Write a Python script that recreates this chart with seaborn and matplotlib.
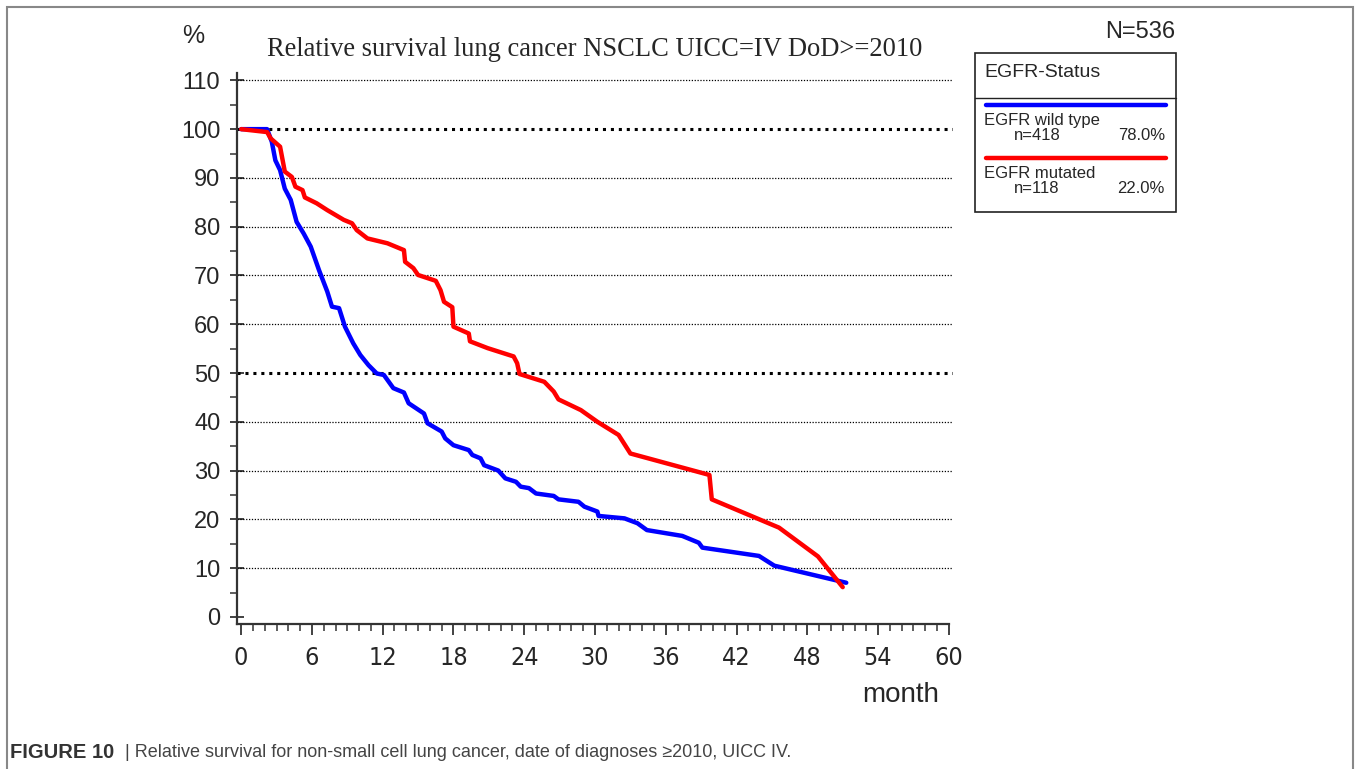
import pandas as pd
import matplotlib
matplotlib.use('Agg')
import matplotlib.pyplot as plt
import seaborn as sns
from matplotlib.lines import Line2D
from matplotlib.patches import Rectangle
from matplotlib.ticker import MultipleLocator

# Kurvenwerte (Monate, relative Überlebensrate in %)
wild_months = [0, 2.2, 2.6, 2.9, 3.3, 3.7, 4.2, 4.7, 5.3, 5.9, 6.6, 7.3, 7.7, 8.3, 8.8,
               9.5, 10.1, 10.8, 11.5, 12.1, 12.9, 13.8, 14.2, 15.5, 15.8, 17.0, 17.3,
               18.0, 19.3, 19.6, 20.3, 20.6, 21.8, 22.4, 23.3, 23.7, 24.4, 25.0, 26.5,
               26.9, 28.6, 29.1, 30.2, 30.3, 32.5, 33.6, 34.4, 37.4, 38.8, 39.1, 43.9,
               45.2, 51.3]
wild_surv = [100, 100, 97.4, 93.6, 91.6, 87.8, 85.5, 81.0, 78.6, 75.9, 71.1, 66.7, 63.6,
             63.3, 59.5, 56.1, 53.7, 51.6, 49.9, 49.6, 46.9, 46.0, 43.8, 41.7, 39.7, 38.0,
             36.6, 35.2, 34.2, 33.2, 32.5, 31.1, 30.0, 28.4, 27.7, 26.7, 26.4, 25.3, 24.8,
             24.1, 23.6, 22.6, 21.6, 20.7, 20.2, 19.2, 17.8, 16.6, 15.2, 14.2, 12.5, 10.5,
             7.0]
mut_months = [0, 2.2, 2.5, 3.3, 3.7, 4.3, 4.6, 5.2, 5.4, 6.4, 7.3, 8.7, 9.4, 9.8, 10.7,
              12.4, 13.8, 13.9, 14.6, 15.0, 16.5, 16.9, 17.2, 17.9, 18.0, 19.3, 19.4,
              20.9, 23.1, 23.4, 23.6, 25.7, 26.5, 26.9, 28.8, 30.2, 32.0, 33.0, 39.7,
              39.9, 45.6, 48.9, 51.0]
mut_surv = [100, 99.4, 98.1, 96.4, 91.3, 90.2, 88.2, 87.5, 86.0, 84.8, 83.4, 81.4, 80.7,
            79.3, 77.6, 76.6, 75.2, 72.8, 71.5, 70.1, 68.9, 67.0, 64.6, 63.5, 59.5, 58.1,
            56.5, 55.1, 53.4, 52.0, 49.8, 48.2, 46.2, 44.6, 42.4, 40.0, 37.3, 33.5, 29.1,
            24.1, 18.3, 12.4, 6.1]

groups = ['EGFR wild type', 'EGFR mutated']
group_n = [418, 118]
group_pct = ['78.0%', '22.0%']
total_n = 536
colors = ['#0000ff', '#ff0000']

df = pd.concat([
    pd.DataFrame({'month': wild_months, 'surv': wild_surv, 'group': groups[0]}),
    pd.DataFrame({'month': mut_months, 'surv': mut_surv, 'group': groups[1]}),
])

sns.set_style('white')
plt.rcParams['font.family'] = ['Liberation Sans', 'DejaVu Sans']

fig = plt.figure(figsize=(13.56, 7.69), dpi=100)
ax = fig.add_axes([0.1748, 0.1886, 0.7028 - 0.1748, 0.905 - 0.1886])

# Gitterlinien
for yv in range(10, 111, 10):
    if yv in (50, 100):
        ax.axhline(yv, color='black', lw=2.2, ls=(0, (1, 1.6)), zorder=1)
    else:
        ax.axhline(yv, color='black', lw=0.9, ls=(0, (1, 1.3)), zorder=1)

sns.lineplot(data=df, x='month', y='surv', hue='group', palette=colors,
             sort=False, estimator=None, lw=3.2, legend=False, ax=ax, zorder=3)

ax.set_xlim(-0.35, 60.35)
ax.set_ylim(-1.45, 111.5)
ax.set_xlabel('')
ax.set_ylabel('')

for s in ['top', 'right']:
    ax.spines[s].set_visible(False)
for s in ['left', 'bottom']:
    ax.spines[s].set_color('#333333')
    ax.spines[s].set_linewidth(1.6)
ax.spines['bottom'].set_bounds(-0.35, 60.0)

ax.xaxis.set_major_locator(MultipleLocator(6))
ax.xaxis.set_minor_locator(MultipleLocator(1))
ax.yaxis.set_major_locator(MultipleLocator(10))
ax.yaxis.set_minor_locator(MultipleLocator(5))
ax.tick_params(axis='x', which='major', direction='out', length=8, width=1.3,
               color='#333333', labelsize=18, pad=8)
ax.tick_params(axis='x', which='minor', direction='out', length=5, width=1.1,
               color='#333333')
ax.tick_params(axis='y', which='major', direction='inout', length=10, width=1.3,
               color='#333333', labelsize=17, pad=7)
ax.tick_params(axis='y', which='minor', direction='out', length=5, width=1.1,
               color='#333333')
ax.tick_params(bottom=True, left=True, which='both')
for lab in ax.get_xticklabels():
    lab.set_family(['DejaVu Sans'])
    lab.set_fontstretch('condensed')
    lab.set_fontsize(18)

ax.set_title('Relative survival lung cancer NSCLC UICC=IV DoD>=2010',
             family=['Liberation Serif', 'DejaVu Serif'], fontsize=19.1,
             pad=12, x=0.5)

fig.text(0.1425, 0.953, '%', fontsize=18, ha='center', va='center')
fig.text(0.664, 0.096, 'month', fontsize=20, ha='center', va='center')
fig.text(0.867, 0.958, f'N={total_n}', fontsize=17, ha='right', va='center')

# Legendenkasten
fig.add_artist(Rectangle((0.719, 0.724), 0.148, 0.207, transform=fig.transFigure,
                         fill=False, ec='#222222', lw=1.2))
fig.add_artist(Line2D([0.719, 0.867], [0.872, 0.872], transform=fig.transFigure,
                      color='#222222', lw=1.0))
fig.text(0.726, 0.906, 'EGFR-Status', fontsize=14, ha='left', va='center')
row_y = [0.864, 0.795]
for i in range(2):
    y0 = row_y[i]
    fig.add_artist(Line2D([0.727, 0.86], [y0, y0], transform=fig.transFigure,
                          color=colors[i], lw=3.2))
    fig.text(0.726, y0 - 0.021, groups[i], fontsize=12, ha='left', va='center')
    fig.text(0.748, y0 - 0.04, f'n={group_n[i]}', fontsize=12, ha='left', va='center')
    fig.text(0.859, y0 - 0.04, group_pct[i], fontsize=12, ha='right', va='center')

# Rahmen
fig.add_artist(Rectangle((0.0052, -0.1), 0.9926, 1.091, transform=fig.transFigure,
                         fill=False, ec='#888888', lw=1.5))

fig.text(0.0075, 0.022, 'FIGURE 10', fontsize=14.5, fontweight='bold', color='#333333',
         ha='left', va='center')
fig.text(0.0925, 0.022, '| Relative survival for non-small cell lung cancer, '
         'date of diagnoses \u22652010, UICC IV.', fontsize=13, color='#444444',
         ha='left', va='center')

fig.savefig('out.png', dpi=100)
